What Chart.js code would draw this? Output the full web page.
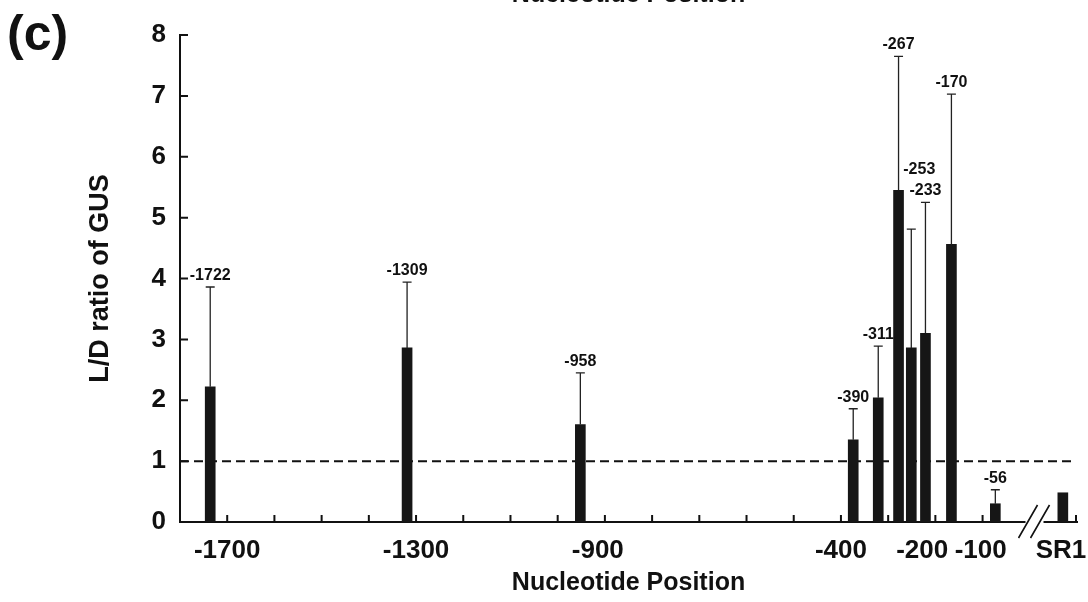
<!DOCTYPE html>
<html lang="en">
<head>
<meta charset="UTF-8">
<title>L/D ratio of GUS by nucleotide position</title>
<script src="https://cdn.jsdelivr.net/npm/chart.js"></script>
<style>
    body {
        margin: 0;
        background: #fff;
    }
    .chart-box {
        position: relative;
        width: 1088px;
        height: 602px;
    }
</style>
</head>
<body>
<div class="chart-box"><canvas id="gusChart" width="1088" height="602"></canvas></div>
<script>
    // deletion end points (labels) and where each bar sits on the axis in the figure
    const barLabels = ['-1722', '-1309', '-958', '-390', '-311', '-267', '-253', '-233', '-170', '-56', 'SR1'];
    const plotPos = [-1736, -1319, -952, -374, -321, -278, -251, -221, -166, -73, 70];
    const ldRatio = [2.22, 2.86, 1.60, 1.35, 2.04, 5.45, 2.86, 3.10, 4.56, 0.30, 0.48];
    const errTop = [3.86, 3.94, 2.45, 1.86, 2.89, 7.65, 4.81, 5.25, 7.03, 0.53, null];
    const xTickValues = [-1700, -1300, -915, -400, -228, -104, 66];
    const xTickLabels = ['-1700', '-1300', '-900', '-400', '-200', '-100', 'SR1'];
    const refLevel = 1;   // dashed line
    const breakAt = 10;   // where the x axis is cut

    const FONT = "'Liberation Sans', Arial, Helvetica, sans-serif";

    const decorations = {
        id: 'decorations',
        beforeDatasetsDraw(chart) {
            const { ctx, chartArea: a, scales: { y } } = chart;
            const yy = y.getPixelForValue(refLevel);
            ctx.save();
            ctx.strokeStyle = '#111';
            ctx.lineWidth = 2;
            ctx.setLineDash([9, 5]);
            ctx.beginPath();
            ctx.moveTo(a.left, yy);
            ctx.lineTo(a.right - 2, yy);
            ctx.stroke();
            ctx.restore();
        },
        afterDraw(chart) {
            const { ctx, chartArea: a, scales: { x, y } } = chart;
            ctx.save();

            // error bars (upper only) + position labels
            ctx.strokeStyle = '#222';
            ctx.fillStyle = '#111';
            ctx.font = 'bold 16px ' + FONT;
            ctx.textAlign = 'center';
            ctx.textBaseline = 'alphabetic';
            plotPos.forEach((p, i) => {
                if (errTop[i] == null) return;
                const px = x.getPixelForValue(p);
                const y0 = y.getPixelForValue(ldRatio[i]);
                const y1 = y.getPixelForValue(errTop[i]);
                ctx.lineWidth = 1.3;
                ctx.beginPath();
                ctx.moveTo(px, y0);
                ctx.lineTo(px, y1);
                ctx.moveTo(px - 4.5, y1);
                ctx.lineTo(px + 4.5, y1);
                ctx.stroke();
                let dx = 0, dy = 0;
                if (barLabels[i] === '-253') { dx = 8; dy = -48; }  // moved up to clear -233
                ctx.fillText(barLabels[i], px + dx, y1 - 7 + dy);
            });

            // inward tick marks
            ctx.strokeStyle = '#111';
            ctx.lineWidth = 2;
            ctx.beginPath();
            for (let v = 0; v <= 8; v++) {
                const py = y.getPixelForValue(v);
                ctx.moveTo(a.left, py);
                ctx.lineTo(a.left + 8, py);
            }
            for (let v = -1700; v <= -100; v += 100) {
                const px = x.getPixelForValue(v);
                ctx.moveTo(px, a.bottom);
                ctx.lineTo(px, a.bottom - 7);
            }
            ctx.moveTo(a.right - 1, a.bottom);
            ctx.lineTo(a.right - 1, a.bottom - 7);
            ctx.stroke();

            // axis break //
            const bx = x.getPixelForValue(breakAt);
            ctx.fillStyle = '#fff';
            ctx.fillRect(bx - 9, a.bottom - 3, 18, 6);
            ctx.lineWidth = 1.6;
            ctx.beginPath();
            ctx.moveTo(bx - 16, a.bottom + 16);
            ctx.lineTo(bx + 3, a.bottom - 17);
            ctx.moveTo(bx - 4, a.bottom + 16);
            ctx.lineTo(bx + 15, a.bottom - 17);
            ctx.stroke();

            // panel letter and the cut-off title above
            ctx.fillStyle = '#111';
            ctx.textAlign = 'left';
            ctx.textBaseline = 'top';
            ctx.font = 'bold 50px ' + FONT;
            ctx.fillText('(c)', 7, 11);
            ctx.textAlign = 'center';
            ctx.textBaseline = 'alphabetic';
            ctx.font = 'bold 25px ' + FONT;
            ctx.fillText('Nucleotide Position', (a.left + a.right) / 2, 2);
            ctx.restore();
        }
    };

    new Chart(document.getElementById('gusChart'), {
        type: 'bar',
        data: {
            datasets: [{
                data: plotPos.map((p, i) => ({ x: p, y: ldRatio[i] })),
                backgroundColor: '#161616',
                barThickness: 10
            }]
        },
        options: {
            responsive: false,
            animation: false,
            devicePixelRatio: 1,
            layout: { padding: { top: 35, right: 11, left: 0, bottom: 0 } },
            plugins: { legend: { display: false }, tooltip: { enabled: false } },
            scales: {
                x: {
                    type: 'linear',
                    min: -1800,
                    max: 100,
                    offset: false,
                    grid: { display: false, drawTicks: false },
                    border: { display: true, color: '#111', width: 2 },
                    afterBuildTicks: (scale) => {
                        scale.ticks = xTickValues.map(v => ({ value: v }));
                    },
                    afterFit: (scale) => {
                        scale.height = 80;
                        scale.paddingLeft = 0;
                        scale.paddingRight = 0;
                    },
                    ticks: {
                        autoSkip: false,
                        maxRotation: 0,
                        padding: 13,
                        color: '#111',
                        font: { family: FONT, size: 26, weight: 'bold' },
                        callback: (v, i) => xTickLabels[i]
                    },
                    title: {
                        display: true,
                        text: 'Nucleotide Position',
                        color: '#111',
                        font: { family: FONT, size: 25, weight: 'bold' },
                        padding: { top: 0, bottom: 4 }
                    }
                },
                y: {
                    min: 0,
                    max: 8,
                    grid: { display: false, drawTicks: false },
                    border: { display: true, color: '#111', width: 2 },
                    afterFit: (scale) => {
                        scale.width = 180;
                        scale.paddingTop = 0;
                        scale.paddingBottom = 0;
                    },
                    ticks: {
                        stepSize: 1,
                        padding: 14,
                        color: '#111',
                        font: { family: FONT, size: 26, weight: 'bold' }
                    },
                    title: {
                        display: true,
                        text: 'L/D ratio of GUS',
                        color: '#111',
                        font: { family: FONT, size: 27, weight: 'bold' },
                        padding: { top: 84, bottom: 0 }
                    }
                }
            }
        },
        plugins: [decorations]
    });
</script>
</body>
</html>
